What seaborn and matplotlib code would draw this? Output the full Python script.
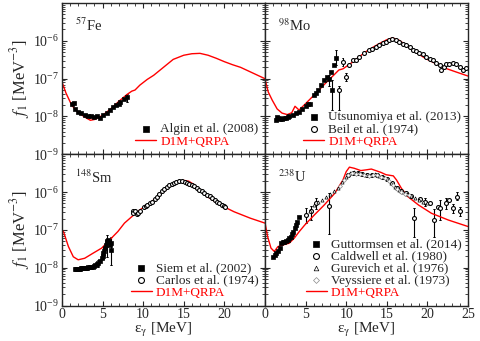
import numpy as np
import seaborn as sns
import matplotlib.pyplot as plt
from matplotlib.ticker import MultipleLocator, FixedLocator, LogLocator, NullFormatter

# DATA (energies in MeV, strength as log10 of f1 in MeV^-3) ----------------------
# 57Fe
fe_curve_E = [0, 0.5, 1.2, 2, 3, 3.5, 4, 5, 6, 7, 8, 8.6, 9, 9.6, 10.5, 11.3, 12.5, 13.7,
              15, 16, 17, 18, 19, 20, 21, 22, 23, 24, 25]
fe_curve_logf = [-7.08, -7.38, -7.70, -7.90, -8.04, -8.10, -8.08, -7.97, -7.80, -7.60, -7.42,
                 -7.33, -7.30, -7.17, -7.02, -6.91, -6.70, -6.49, -6.38, -6.34, -6.33, -6.38,
                 -6.46, -6.55, -6.63, -6.70, -6.80, -6.90, -7.0]
algin_E = [1.3, 1.5, 1.6, 2.0, 2.4, 2.8, 3.2, 3.6, 4.0, 4.3, 4.7, 5.1, 5.5, 5.9, 6.3, 6.7,
           7.0, 7.2, 7.6, 8.0]
algin_logf = [-7.68, -7.63, -7.80, -7.87, -7.92, -7.95, -7.98, -7.99, -8.02, -7.99, -8.03,
              -7.96, -7.90, -7.83, -7.76, -7.70, -7.66, -7.61, -7.55, -7.48]
algin_err_E = [8.0]
algin_err_lo = [-7.62]
algin_err_hi = [-7.40]

# 98Mo
mo_curve_E = [0, 0.4, 0.9, 1.5, 2.1, 2.75, 3.3, 3.7, 4.2, 5.0, 6.25, 7.5, 8.5, 9.1, 9.6,
              10.0, 10.8, 11.6, 12.8, 14.1, 15.0, 15.7, 16.5, 17.3, 18.2, 19.8, 21, 22.3,
              23.5, 25]
mo_curve_logf = [-7.0, -7.35, -7.57, -7.80, -7.91, -7.95, -7.90, -7.73, -7.83, -7.66, -7.39,
                 -7.11, -6.90, -6.77, -6.74, -6.68, -6.56, -6.42, -6.23, -6.07, -5.97, -5.92,
                 -5.98, -6.10, -6.25, -6.47, -6.60, -6.73, -6.82, -6.93]
utsu_E = [1.3, 1.5, 1.7, 1.9, 2.1, 2.3, 2.55, 2.8, 3.0, 3.4, 3.8, 4.2, 4.6, 5.0, 5.3, 5.6,
          6.05, 6.3, 6.5, 6.9, 7.3, 7.7, 7.9, 8.1, 8.3, 8.5, 8.7]
utsu_logf = [-8.10, -8.02, -8.05, -8.07, -8.07, -8.04, -8.05, -8.02, -8.0, -7.97, -7.92,
             -7.88, -7.80, -7.72, -7.68, -7.66, -7.44, -7.38, -7.30, -7.17, -7.04, -6.95,
             -7.02, -6.82, -7.30, -6.64, -6.46]
utsu_err_E = [7.9, 8.3, 8.7]
utsu_err_lo = [-7.20, -7.83, -6.64]
utsu_err_hi = [-6.90, -7.04, -6.23]
beil_E = [9.14, 9.55, 9.96, 10.37, 10.8, 11.2, 11.6, 12.2, 12.8, 13.2, 13.7, 14.1, 14.5, 14.9,
          15.3, 15.7, 16.1, 16.5, 17.0, 17.4, 17.8, 18.2, 18.6, 19.0, 19.4, 19.8, 20.3,
          20.7, 21.1, 21.5, 21.7, 22.0, 22.3, 22.7, 23.1, 23.5, 24.0, 24.4, 24.8]
beil_logf = [-7.30, -6.55, -6.95, -6.64, -6.51, -6.51, -6.42, -6.33, -6.25, -6.21, -6.16,
             -6.10, -6.05, -6.02, -5.98, -5.96, -5.99, -6.03, -6.07, -6.11, -6.17, -6.23,
             -6.27, -6.31, -6.36, -6.42, -6.47, -6.51, -6.58, -6.64, -6.77, -6.70, -6.60,
             -6.60, -6.58, -6.62, -6.69, -6.76, -6.73]
beil_err_E = [9.14, 9.55, 9.96]
beil_err_lo = [-7.83, -6.66, -7.05]
beil_err_hi = [-7.19, -6.45, -6.85]

# 148Sm
sm_curve_E = [0, 0.2, 0.8, 1.4, 2.0, 2.8, 3.8, 4.9, 5.9, 6.9, 7.7, 8.6, 9.6, 10.8, 12.1,
              13.3, 14.3, 15.0, 15.6, 16.2, 17.0, 17.9, 19.5, 21.2, 23.2, 25]
sm_curve_logf = [-7.0, -7.05, -7.44, -7.71, -7.79, -7.75, -7.62, -7.48, -7.26, -7.04, -6.82,
                 -6.65, -6.47, -6.29, -6.07, -5.85, -5.73, -5.69, -5.71, -5.79, -5.95, -6.12,
                 -6.34, -6.52, -6.69, -6.82]
siem_E = [1.6, 1.75, 1.9, 2.05, 2.2, 2.35, 2.5, 2.65, 2.8, 2.95, 3.1, 3.25, 3.4, 3.6, 3.8,
          4.0, 4.1, 4.3, 4.5, 4.7, 4.9, 5.0, 5.1, 5.2, 5.3, 5.4, 5.5, 5.6, 5.7, 5.8, 5.9,
          6.0, 6.1]
siem_logf = [-8.03, -8.04, -8.04, -8.03, -8.03, -8.02, -8.02, -8.01, -8.01, -8.0, -8.0,
             -7.99, -7.99, -7.98, -7.97, -7.96, -7.94, -7.91, -7.88, -7.82, -7.75, -7.70,
             -7.62, -7.55, -7.48, -7.40, -7.31, -7.28, -7.26, -7.32, -7.40, -7.35, -7.53]
siem_err_E = [4.5, 5.1, 5.5, 6.1]
siem_err_lo = [-7.98, -7.78, -7.71, -7.93]
siem_err_hi = [-7.80, -7.45, -7.13, -7.18]
carlos_E = [8.7, 8.8, 9.0, 9.2, 9.4, 9.6, 10.1, 10.3, 10.5, 10.8, 11.1, 11.4, 11.7, 12.0,
            12.3, 12.6, 12.9, 13.2, 13.5, 13.8, 14.1, 14.4, 14.8, 15.1, 15.4, 15.7, 16.0,
            16.3, 16.6, 16.9, 17.2, 17.5, 17.9, 18.2, 18.5, 18.8, 19.1, 19.4, 19.7, 19.9, 20.1]
carlos_logf = [-6.50, -6.54, -6.50, -6.58, -6.54, -6.50, -6.40, -6.37, -6.34, -6.30, -6.25,
               -6.19, -6.13, -6.05, -5.98, -5.92, -5.87, -5.82, -5.78, -5.75, -5.73, -5.71,
               -5.70, -5.72, -5.75, -5.78, -5.81, -5.85, -5.90, -5.94, -5.98, -6.02, -6.07,
               -6.11, -6.16, -6.20, -6.25, -6.29, -6.34, -6.37, -6.40]

# 238U
u_curve_E = [0, 0.33, 0.74, 1.15, 1.6, 2.2, 3.0, 3.6, 4.2, 4.9, 6.1, 7.3, 8.6, 9.6, 10.0,
             10.4, 11.0, 11.8, 12.5, 13.1, 14.3, 14.9, 15.8, 16.2, 16.8, 17.6, 18.9, 20.5,
             22.6, 25]
u_curve_logf = [-6.8, -7.18, -7.48, -7.57, -7.44, -7.40, -7.35, -7.22, -7.05, -6.87, -6.60,
                -6.34, -6.03, -5.68, -5.46, -5.34, -5.37, -5.43, -5.41, -5.39, -5.48, -5.54,
                -5.57, -5.68, -5.90, -6.12, -6.34, -6.56, -6.74, -6.91]
gutt_E = [1.0, 1.2, 1.4, 1.6, 1.8, 2.0, 2.2, 2.4, 2.6, 2.8, 3.0, 3.2, 3.35, 3.5, 3.65, 3.8,
          4.0, 4.2]
gutt_logf = [-7.71, -7.66, -7.62, -7.55, -7.48, -7.34, -7.33, -7.31, -7.29, -7.26, -7.22,
             -7.19, -7.12, -7.05, -6.95, -6.87, -6.78, -6.66]
cald_E = [5.1, 5.7, 6.3, 7.9, 10.2, 10.8, 11.4, 12.0, 12.6, 13.2, 13.8, 14.4, 15.0, 15.6,
          16.2, 16.8, 17.4, 18.0, 18.4, 19.1, 19.7, 20.3, 20.8, 21.3, 21.6, 22.3, 22.7,
          23.1, 23.7, 24.0]
cald_logf = [-6.60, -6.50, -6.30, -6.38, -5.56, -5.50, -5.50, -5.53, -5.55, -5.56, -5.55,
             -5.60, -5.66, -5.76, -5.88, -5.98, -6.03, -6.10, -6.69, -6.18, -6.25, -6.30,
             -6.74, -6.40, -6.43, -6.30, -6.21, -6.43, -6.12, -6.51]
cald_err_E = [5.1, 5.7, 6.3, 7.9, 18.4, 19.7, 20.8, 21.6, 22.3, 23.1, 23.7, 24.0]
cald_err_lo = [-6.82, -6.74, -6.45, -7.10, -7.18, -6.38, -7.18, -6.75, -6.45, -6.55, -6.22,
               -6.62]
cald_err_hi = [-6.43, -6.37, -6.15, -6.03, -6.42, -6.15, -6.45, -6.20, -6.15, -6.32, -6.00,
               -6.40]
gure_E = [5.5, 6.0, 6.5, 7.0, 7.5, 8.0, 8.5, 9.0, 9.5, 10.0, 10.5, 11.0, 11.5, 12.0, 12.5,
          13.0, 13.5, 14.0, 14.5, 15.0, 15.5, 16.0, 16.5, 17.0, 17.5, 18.0, 18.5, 19.0,
          19.5, 20.0]
gure_logf = [-6.50, -6.33, -6.27, -6.20, -6.12, -6.05, -5.97, -5.88, -5.74, -5.60, -5.50,
             -5.47, -5.49, -5.52, -5.54, -5.55, -5.53, -5.57, -5.61, -5.66, -5.75, -5.86,
             -5.95, -6.00, -6.04, -6.10, -6.15, -6.20, -6.25, -6.30]
veys_E = [9.25, 9.75, 10.25, 10.75, 11.25, 11.75, 12.25, 12.75, 13.25, 13.75, 14.25, 14.75,
          15.25, 15.75, 16.25, 16.75, 17.25, 17.75]
veys_logf = [-5.83, -5.68, -5.56, -5.50, -5.51, -5.53, -5.56, -5.57, -5.56, -5.56, -5.60,
             -5.64, -5.71, -5.81, -5.92, -5.99, -6.04, -6.08]

# PLOT ----------------------------------------------------------------------------
sns.set_style("ticks")
plt.rcParams['font.family'] = ['Liberation Serif', 'DejaVu Serif']
plt.rcParams['mathtext.fontset'] = 'stix'
plt.rcParams['xtick.direction'] = 'in'
plt.rcParams['ytick.direction'] = 'in'
plt.rcParams['xtick.top'] = True
plt.rcParams['ytick.right'] = True


def f(logf):
    return [10.0 ** v for v in logf]


def points(ax, E, logf, marker, label, face='black', edge='black', size=7, lw=0.5):
    sns.scatterplot(x=E, y=f(logf), ax=ax, marker=marker, s=size, color=face,
                    edgecolor=edge, linewidth=lw, label=label, zorder=3)


def bars(ax, E, lo, hi):
    for e, a, b in zip(E, lo, hi):
        ax.plot([e, e], [10 ** a, 10 ** b], color='black', lw=0.8, zorder=2)
        ax.plot([e - 0.12, e + 0.12], [10 ** a] * 2, color='black', lw=0.6, zorder=2)
        ax.plot([e - 0.12, e + 0.12], [10 ** b] * 2, color='black', lw=0.6, zorder=2)


def curve(ax, E, logf):
    sns.lineplot(x=E, y=f(logf), ax=ax, color='red', lw=1.0, label='D1M+QRPA', zorder=2)


fig, axes = plt.subplots(2, 2, figsize=(4.8, 3.41), dpi=100)
fig.subplots_adjust(left=0.129, right=0.975, top=0.991, bottom=0.104, hspace=0, wspace=0)
ax_fe, ax_mo = axes[0]
ax_sm, ax_u = axes[1]

# Fe
bars(ax_fe, algin_err_E, algin_err_lo, algin_err_hi)
points(ax_fe, algin_E, algin_logf, 's', 'Algin et al. (2008)')
curve(ax_fe, fe_curve_E, fe_curve_logf)

# Mo
bars(ax_mo, utsu_err_E, utsu_err_lo, utsu_err_hi)
bars(ax_mo, beil_err_E, beil_err_lo, beil_err_hi)
points(ax_mo, utsu_E, utsu_logf, 's', 'Utsunomiya et al. (2013)')
points(ax_mo, beil_E, beil_logf, 'o', 'Beil et al. (1974)', face='white', size=8, lw=0.8)
curve(ax_mo, mo_curve_E, mo_curve_logf)

# Sm
bars(ax_sm, siem_err_E, siem_err_lo, siem_err_hi)
points(ax_sm, siem_E, siem_logf, 's', 'Siem et al. (2002)')
points(ax_sm, carlos_E, carlos_logf, 'o', 'Carlos et al. (1974)', face='white', size=8, lw=0.8)
curve(ax_sm, sm_curve_E, sm_curve_logf)

# U
bars(ax_u, cald_err_E, cald_err_lo, cald_err_hi)
points(ax_u, gutt_E, gutt_logf, 's', 'Guttormsen et al. (2014)', size=10)
points(ax_u, cald_E, cald_logf, 'o', 'Caldwell et al. (1980)', face='white', size=8, lw=0.8)
points(ax_u, gure_E, gure_logf, '^', 'Gurevich et al. (1976)', face='white', size=5, lw=0.5)
points(ax_u, veys_E, veys_logf, 'D', 'Veyssiere et al. (1973)', face='white', edge='#888888',
       size=4, lw=0.5)
curve(ax_u, u_curve_E, u_curve_logf)

labels = {ax_fe: r'$^{57}$Fe', ax_mo: r'$^{98}$Mo', ax_sm: r'$^{148}$Sm', ax_u: r'$^{238}$U'}

for ax in [ax_fe, ax_mo, ax_sm, ax_u]:
    ax.set_yscale('log')
    ax.set_xlim(0, 25)
    ax.set_ylim(1e-9, 1e-5)
    ax.yaxis.set_major_locator(FixedLocator([1e-9, 1e-8, 1e-7, 1e-6]))
    ax.yaxis.set_minor_locator(LogLocator(base=10, subs=np.arange(2, 10)))
    ax.yaxis.set_minor_formatter(NullFormatter())
    ax.xaxis.set_minor_locator(MultipleLocator(1))
    ax.tick_params(which='major', length=3.5, width=0.8, labelsize=10, pad=2,
                   top=True, right=True)
    ax.tick_params(which='minor', length=2, width=0.6, top=True, right=True)
    for s in ax.spines.values():
        s.set_linewidth(1.0)
    ax.set_xlabel('')
    ax.set_ylabel('')
    ax.text(0.065, 0.85, labels[ax], transform=ax.transAxes, fontsize=10.5, va='center')

    handles, names = ax.get_legend_handles_labels()
    leg = ax.legend(handles, names, loc='lower right', frameon=False, fontsize=9.5,
                    handlelength=1.6, handletextpad=0.3, labelspacing=0.0,
                    borderaxespad=0.1, markerscale=1.5)
    for t in leg.get_texts():
        if t.get_text() == 'D1M+QRPA':
            t.set_color('red')

ax_fe.xaxis.set_major_locator(FixedLocator([0, 5, 10, 15, 20]))
ax_sm.xaxis.set_major_locator(FixedLocator([0, 5, 10, 15, 20]))
ax_mo.xaxis.set_major_locator(MultipleLocator(5))
ax_u.xaxis.set_major_locator(MultipleLocator(5))

for ax in [ax_fe, ax_mo]:
    ax.tick_params(labelbottom=False)
for ax in [ax_mo, ax_u]:
    ax.tick_params(labelleft=False)

for ax in [ax_sm, ax_u]:
    ax.set_xlabel('ε$_{\\mathrm{γ}}$ [MeV]', fontsize=11, labelpad=0)
for ax in [ax_fe, ax_sm]:
    ax.set_ylabel(r'$f_{\mathit{1}}$ [MeV$^{-3}$]', fontsize=12, labelpad=1)

fig.savefig('out.png', dpi=100)
